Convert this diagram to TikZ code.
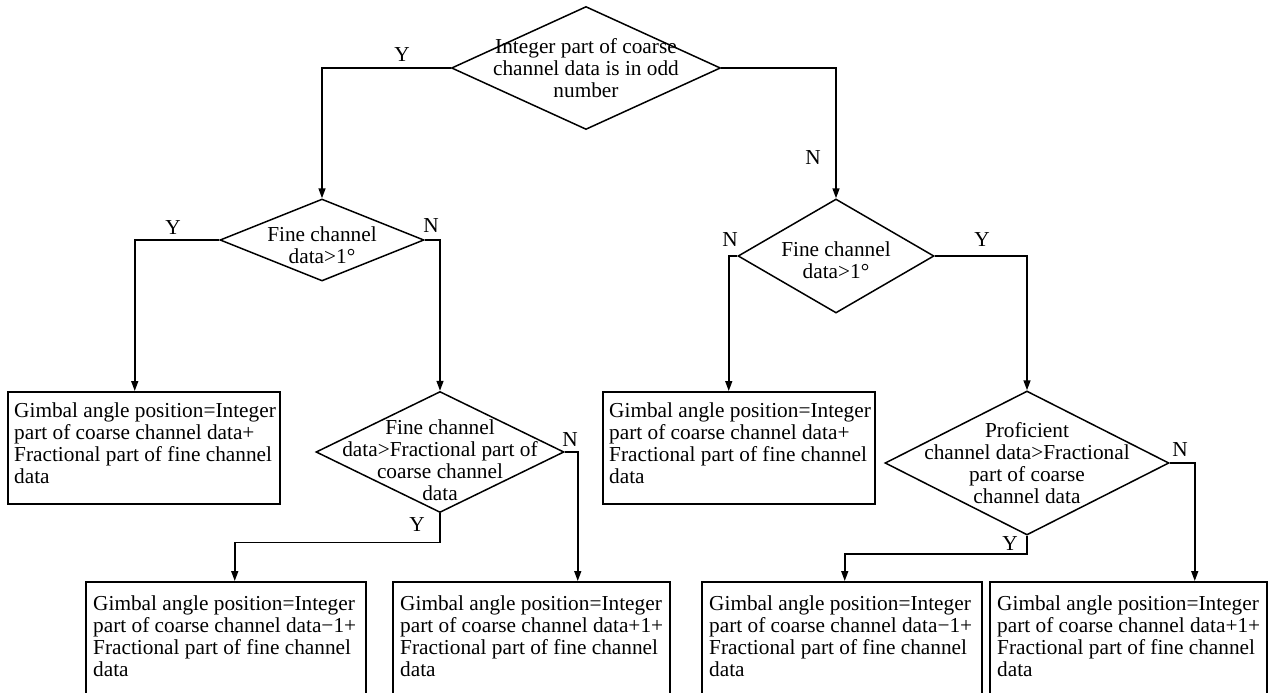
\documentclass[tikz,border=0pt]{standalone}
\usepackage{fontspec}
\setmainfont{Liberation Serif}
\usetikzlibrary{arrows.meta,shapes.geometric}
\newcommand\dfont{\fontsize{21.3pt}{22pt}\selectfont}
\tikzset{
  arr/.style={line width=1.5pt, -{Triangle[length=10pt,width=7pt]}},
  dia/.style={draw, line width=1.5pt, diamond, inner sep=0pt},
  dtext/.style={align=center, inner sep=0pt, font=\dfont},
  box/.style={draw, line width=1.5pt, rectangle, inner sep=0pt, anchor=north west},
  btext/.style={align=left, inner sep=0pt, font=\dfont, anchor=north west},
  lab/.style={inner sep=0pt, font=\dfont}
}
\begin{document}
\begin{tikzpicture}[x=1pt,y=-1pt]
\useasboundingbox (0,0) rectangle (1271,693);
\clip (0,0) rectangle (1271,693);

% decisions
\node[dia, minimum width=269pt, minimum height=123pt] (d1) at (586,68) {};
\node[dtext] (t1) at (586,68) {Integer part of coarse\\channel data is in odd\\number};
\node[dia, minimum width=204pt, minimum height=82pt] (d2) at (322,240) {};
\node[dtext] (t2) at (322,245) {Fine channel\\data>1°};
\node[dia, minimum width=196pt, minimum height=114pt] (d3) at (836,256) {};
\node[dtext] (t3) at (836,260) {Fine channel\\data>1°};
\node[dia, minimum width=248pt, minimum height=121pt] (d4) at (440,452) {};
\node[dtext] (t4) at (440,460) {Fine channel\\data>Fractional part of\\coarse channel\\data};
\node[dia, minimum width=284pt, minimum height=144pt] (d5) at (1027,463) {};
\node[dtext] (t5) at (1027,463) {Proficient\\channel data>Fractional\\part of coarse\\channel data};

% results
\node[box, minimum width=272pt, minimum height=112pt] (b1) at (7,391) {};
\node[btext] (bt1) at (14,403) {Gimbal angle position=Integer\\part of coarse channel data+\\Fractional part of fine channel\\data};
\node[box, minimum width=272pt, minimum height=112pt] (b3) at (602,391) {};
\node[btext] (bt3) at (609,403) {Gimbal angle position=Integer\\part of coarse channel data+\\Fractional part of fine channel\\data};
\node[box, minimum width=280pt, minimum height=140pt] (b5) at (85,581) {};
\node[btext] (bt5) at (93,596) {Gimbal angle position=Integer\\part of coarse channel data−1+\\Fractional part of fine channel\\data};
\node[box, minimum width=277pt, minimum height=140pt] (b6) at (392,581) {};
\node[btext] (bt6) at (400,596) {Gimbal angle position=Integer\\part of coarse channel data+1+\\Fractional part of fine channel\\data};
\node[box, minimum width=280pt, minimum height=140pt] (b7) at (701,581) {};
\node[btext] (bt7) at (709,596) {Gimbal angle position=Integer\\part of coarse channel data−1+\\Fractional part of fine channel\\data};
\node[box, minimum width=277pt, minimum height=140pt] (b8) at (989,581) {};
\node[btext] (bt8) at (997,596) {Gimbal angle position=Integer\\part of coarse channel data+1+\\Fractional part of fine channel\\data};

% connectors
\draw[arr] (d1.west) -| (d2.north);
\draw[arr] (d1.east) -| (d3.north);
\draw[arr] (d2.west) -| ([xshift=-9pt]b1.north);
\draw[arr] (d2.east) -| (d4.north);
\draw[arr] (d3.west) -| ([xshift=-10pt]b3.north);
\draw[arr] (d3.east) -| (d5.north);
\draw[arr] (d4.east) -- ++(13,0) coordinate (c4) -- (c4 |- b6.north);
\draw[arr] (d4.south) -- ++(0,29) -| ([xshift=9pt]b5.north);
\draw[arr] (d5.south) -- ++(0,18) -| ([xshift=3pt]b7.north);
\draw[arr] (d5.east) -- ++(25,0) coordinate (c6) -- (c6 |- b8.north);

% labels
\node[lab] (ly1) at (402,55) {Y};
\node[lab] (ln1) at (813,158) {N};
\node[lab] (ly2) at (173,228) {Y};
\node[lab] (ln2) at (431,226) {N};
\node[lab] (ln3) at (730,240) {N};
\node[lab] (ly3) at (982,240) {Y};
\node[lab] (ln4) at (570,440) {N};
\node[lab] (ly4) at (417,525) {Y};
\node[lab] (ly5) at (1010,544) {Y};
\node[lab] (ln5) at (1180,450) {N};
\end{tikzpicture}
\end{document}
